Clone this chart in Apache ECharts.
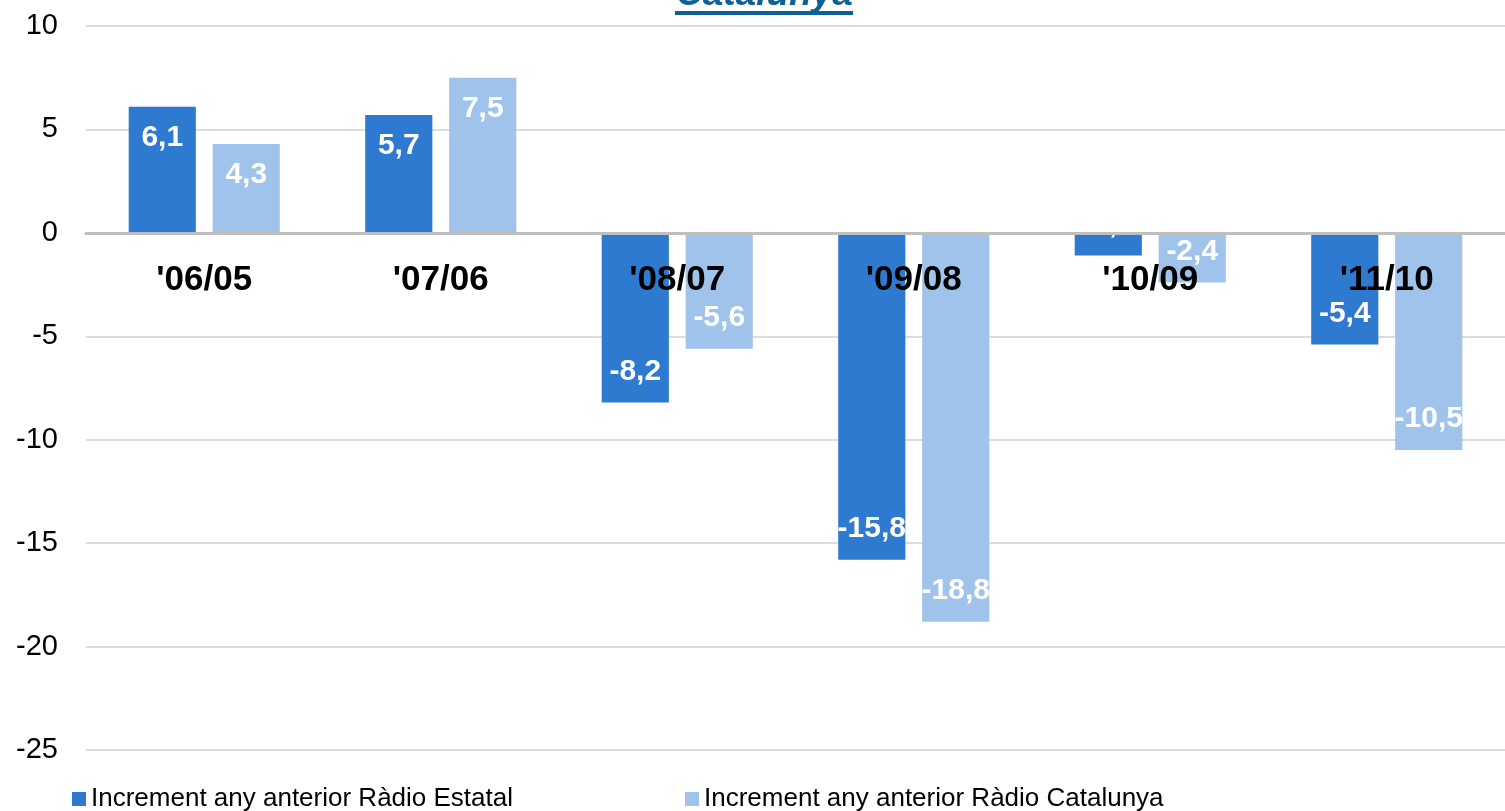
<!DOCTYPE html>
<html>
<head>
<meta charset="utf-8">
<script src="https://cdn.jsdelivr.net/npm/echarts@6/dist/echarts.min.js"></script>
<style>
  html, body { margin: 0; padding: 0; background: #fff; }
  #main { width: 1505px; height: 811px; }
</style>
</head>
<body>
<div id="main"></div>
<script>
// dades
const categories = ["'06/05", "'07/06", "'08/07", "'09/08", "'10/09", "'11/10"]
const estatal = [6.1, 5.7, -8.2, -15.8, -1.1, -5.4]
const catalunya = [4.3, 7.5, -5.6, -18.8, -2.4, -10.5]
const seriesNames = ['Increment any anterior Ràdio Estatal', 'Increment any anterior Ràdio Catalunya']
const titleText = 'Catalunya'

const FONT = '"Liberation Sans", Arial, sans-serif'
const colorDark = '#2d7ad0'
const colorLight = '#9fc3eb'

const fmt = v => String(v).replace('.', ',')

function toData (arr) {
  return arr.map(v => {
    return {
      value: v,
      label: { position: v >= 0 ? 'insideTop' : 'insideBottom' }
    }
  })
}

const labelStyle = {
  show: true,
  distance: 16,
  color: '#fff',
  fontSize: 30,
  fontWeight: 'bold',
  fontFamily: FONT,
  formatter: p => fmt(p.value)
}

const myChart = echarts.init(document.getElementById('main'))
const option = {
  animation: false,
  textStyle: { fontFamily: FONT },
  graphic: [
    {
      type: 'text',
      left: 676,
      top: -24,
      style: {
        text: titleText,
        font: 'italic bold 37px ' + FONT,
        fill: '#0e6196'
      }
    },
    {
      type: 'rect',
      shape: { x: 675, y: 11, width: 178, height: 4 },
      style: { fill: '#0e6196' }
    }
  ],
  legend: [
    {
      data: [seriesNames[0]],
      left: 67,
      bottom: -6,
      itemWidth: 14,
      itemHeight: 14,
      itemGap: 10,
      icon: 'rect',
      textStyle: { fontSize: 26, color: '#000', fontFamily: FONT }
    },
    {
      data: [seriesNames[1]],
      left: 680,
      bottom: -6,
      itemWidth: 14,
      itemHeight: 14,
      icon: 'rect',
      textStyle: { fontSize: 26, color: '#000', fontFamily: FONT }
    }
  ],
  grid: {
    left: 86,
    right: -19,
    top: 26,
    bottom: 61,
    containLabel: false
  },
  xAxis: {
    type: 'category',
    data: categories,
    z: 10,
    axisTick: { show: false },
    axisLine: { onZero: true, lineStyle: { color: '#bfbfbf', width: 3 } },
    axisLabel: {
      margin: -487,
      fontSize: 35,
      fontWeight: 'bold',
      color: '#000',
      fontFamily: FONT
    }
  },
  yAxis: {
    type: 'value',
    min: -25,
    max: 10,
    interval: 5,
    axisLine: { show: false },
    axisTick: { show: false },
    splitLine: { lineStyle: { color: '#d0d0d0', width: 1.5 } },
    axisLabel: {
      margin: 28,
      fontSize: 29,
      color: '#000',
      fontFamily: FONT
    }
  },
  series: [
    {
      name: seriesNames[0],
      type: 'bar',
      barWidth: '28.4%',
      barGap: '25%',
      itemStyle: { color: colorDark },
      label: labelStyle,
      data: toData(estatal)
    },
    {
      name: seriesNames[1],
      type: 'bar',
      barWidth: '28.4%',
      barGap: '25%',
      itemStyle: { color: colorLight },
      label: labelStyle,
      data: toData(catalunya)
    }
  ]
}
myChart.setOption(option)
</script>
</body>
</html>
